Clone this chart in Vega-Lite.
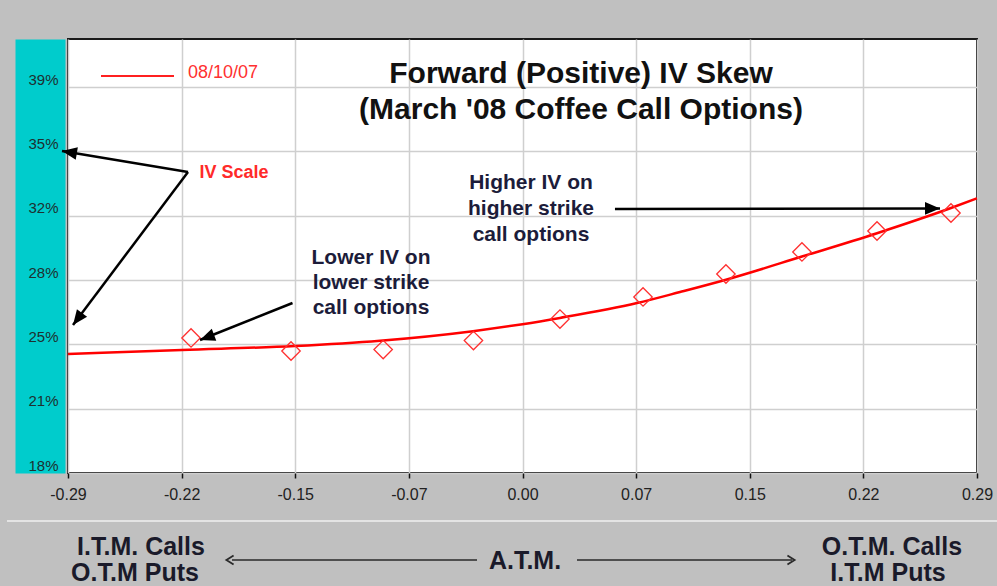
{
  "$schema": "https://vega.github.io/schema/vega-lite/v6.json",
  "width": 909,
  "height": 434,
  "autosize": {"type": "none"},
  "padding": {"left": 68, "top": 39, "right": 20, "bottom": 113},
  "background": "#c0c0c0",
  "config": {
    "view": {"fill": "#ffffff", "stroke": "#1a1a1a", "strokeWidth": 2},
    "font": "Liberation Sans",
    "axis": {"labelFont": "Liberation Sans"}
  },
  "datasets": {
    "curve": [
      {"x": -0.29, "y": 24.48},
      {"x": -0.2173, "y": 24.70},
      {"x": -0.1452, "y": 24.91},
      {"x": -0.0909, "y": 25.20},
      {"x": -0.0316, "y": 25.72},
      {"x": 0.0, "y": 26.10},
      {"x": 0.0239, "y": 26.44},
      {"x": 0.0731, "y": 27.25},
      {"x": 0.1005, "y": 27.85},
      {"x": 0.1298, "y": 28.52},
      {"x": 0.1783, "y": 29.78},
      {"x": 0.2262, "y": 31.05},
      {"x": 0.2734, "y": 32.42},
      {"x": 0.29, "y": 32.95}
    ],
    "pts": [
      {"x": -0.2115, "y": 25.35},
      {"x": -0.1477, "y": 24.64},
      {"x": -0.0889, "y": 24.72},
      {"x": -0.0313, "y": 25.21},
      {"x": 0.0239, "y": 26.38},
      {"x": 0.0769, "y": 27.58},
      {"x": 0.1298, "y": 28.83},
      {"x": 0.1783, "y": 30.03},
      {"x": 0.2262, "y": 31.17},
      {"x": 0.2734, "y": 32.15}
    ],
    "arrows": [
      {"id": "a1", "x": -0.21343, "y": 34.384},
      {"id": "a1", "x": -0.29383, "y": 35.527},
      {"id": "a2", "x": -0.21343, "y": 34.384},
      {"id": "a2", "x": -0.28681, "y": 26.056},
      {"id": "a3", "x": -0.14675, "y": 27.253},
      {"id": "a3", "x": -0.20578, "y": 25.239},
      {"id": "a4", "x": 0.0590, "y": 32.37},
      {"id": "a4", "x": 0.2664, "y": 32.40}
    ],
    "heads": [
      {"x": -0.29383, "y": 35.527, "dir": 189.5},
      {"x": -0.28681, "y": 26.056, "dir": 126.9},
      {"x": -0.20578, "y": 25.239, "dir": 159.3},
      {"x": 0.2664, "y": 32.40, "dir": 0}
    ],
    "sep": [
      {"x": -0.32892, "x2": 0.30276, "y": 15.387}
    ],
    "barrows": [
      {"x": -0.18536, "x2": -0.02903, "y": 13.264},
      {"x": 0.03477, "x2": 0.17196, "y": 13.264}
    ],
    "chevrons": [
      {"x": -0.18663, "y": 13.264, "dir": 180},
      {"x": 0.17133, "y": 13.264, "dir": 0}
    ],
    "legendline": [
      {"x": -0.26894, "x2": -0.22237, "y": 39.609}
    ],
    "notes": [
      {"kind": "title", "x": 0.03733, "y": 39.72, "text": "Forward (Positive) IV Skew"},
      {"kind": "title", "x": 0.03733, "y": 37.76, "text": "(March '08 Coffee Call Options)"},
      {"kind": "ann", "x": -0.09667, "y": 29.703, "text": "Lower IV on"},
      {"kind": "ann", "x": -0.09667, "y": 28.342, "text": "lower strike"},
      {"kind": "ann", "x": -0.09667, "y": 26.981, "text": "call options"},
      {"kind": "ann", "x": 0.00542, "y": 33.785, "text": "Higher IV on"},
      {"kind": "ann", "x": 0.00542, "y": 32.37, "text": "higher strike"},
      {"kind": "ann", "x": 0.00542, "y": 30.955, "text": "call options"},
      {"kind": "iv", "x": -0.18408, "y": 34.33, "text": "IV Scale"},
      {"kind": "legend", "x": -0.21343, "y": 39.77, "text": "08/10/07"},
      {"kind": "bottom", "x": -0.24342, "y": 13.972, "text": "I.T.M. Calls"},
      {"kind": "bottom", "x": -0.24725, "y": 12.557, "text": "O.T.M Puts"},
      {"kind": "bottom", "x": 0.0016, "y": 13.21, "text": "A.T.M."},
      {"kind": "bottom", "x": 0.23576, "y": 13.972, "text": "O.T.M. Calls"},
      {"kind": "bottom", "x": 0.23321, "y": 12.557, "text": "I.T.M Puts"}
    ]
  },
  "encoding": {
    "x": {"field": "x", "type": "quantitative", "title": null,
          "scale": {"domain": [-0.29, 0.29], "nice": false, "zero": false},
          "axis": {"values": [-0.29, -0.2175, -0.145, -0.0725, 0, 0.0725, 0.145, 0.2175, 0.29],
                   "labelExpr": "datum.value < -0.25 ? '-0.29' : datum.value < -0.18 ? '-0.22' : datum.value < -0.1 ? '-0.15' : datum.value < -0.03 ? '-0.07' : datum.value < 0.03 ? '0.00' : datum.value < 0.1 ? '0.07' : datum.value < 0.18 ? '0.15' : datum.value < 0.25 ? '0.22' : '0.29'",
                   "grid": true, "gridColor": "#cfcfcf", "gridWidth": 1.5,
                   "domain": false, "ticks": true, "tickColor": "#111111", "tickSize": 5, "tickWidth": 1.5,
                   "labelFontSize": 16, "labelColor": "#222222", "labelPadding": 8,
                   "labelFlush": false, "labelOverlap": false}},
    "y": {"field": "y", "type": "quantitative", "title": null, "axis": null,
          "scale": {"domain": [18, 41.62], "nice": false, "zero": false}}
  },
  "layer": [
    {
      "data": {"name": "sep"},
      "mark": {"type": "rule", "color": "#e4e4e4", "strokeWidth": 2},
      "encoding": {
        "x2": {"field": "x2"},
        "y": {"field": "y", "type": "quantitative", "title": null,
              "scale": {"domain": [18, 41.62], "nice": false, "zero": false},
              "axis": {"orient": "left", "labels": false, "ticks": false, "grid": false,
                       "domain": true, "domainColor": "#00cccc", "domainWidth": 50,
                       "offset": 28, "zindex": 0}}
      }
    },
    {
      "data": {"name": "curve"},
      "mark": {"type": "line", "color": "#ff0000", "strokeWidth": 2.5, "interpolate": "monotone"},
      "encoding": {
        "y": {"field": "y", "type": "quantitative", "title": null,
              "scale": {"domain": [18, 41.62], "nice": false, "zero": false},
              "axis": {"orient": "left", "values": [18, 21.5, 25, 28.5, 32, 35.5, 39],
                       "labelExpr": "floor(datum.value) + '%'",
                       "grid": false, "domain": false, "ticks": false,
                       "labelFontSize": 15, "labelColor": "#1e3030", "labelPadding": 10,
                       "labelBaseline": "bottom", "zindex": 1}}
      }
    },
    {
      "data": {"name": "pts"},
      "mark": {"type": "point", "shape": "diamond", "filled": false, "color": "#ff3030",
               "strokeWidth": 1.3, "size": 340, "opacity": 1},
      "encoding": {
        "y": {"field": "y", "type": "quantitative", "title": null,
              "scale": {"domain": [18, 41.62], "nice": false, "zero": false},
              "axis": {"orient": "left", "values": [18, 21.5, 25, 28.5, 32, 35.5, 39],
                       "labels": false, "ticks": false, "domain": false,
                       "grid": true, "gridColor": "#cfcfcf", "gridWidth": 1.5, "zindex": 0}}
      }
    },
    {
      "data": {"name": "arrows"},
      "mark": {"type": "line", "color": "#000000", "strokeWidth": 2.5},
      "encoding": {"detail": {"field": "id"}}
    },
    {
      "data": {"name": "heads"},
      "mark": {"type": "point", "shape": "M0,0L-2,-0.85L-2,0.85Z", "filled": true,
               "color": "#000000", "size": 225, "opacity": 1},
      "encoding": {"angle": {"field": "dir", "type": "quantitative", "scale": null}}
    },
    {
      "data": {"name": "barrows"},
      "mark": {"type": "rule", "color": "#2a2a2a", "strokeWidth": 1.5},
      "encoding": {"x2": {"field": "x2"}}
    },
    {
      "data": {"name": "chevrons"},
      "mark": {"type": "point", "shape": "M-0.8,-1L0.8,0L-0.8,1", "filled": false,
               "color": "#2a2a2a", "strokeWidth": 1.8, "size": 80, "opacity": 1},
      "encoding": {"angle": {"field": "dir", "type": "quantitative", "scale": null}}
    },
    {
      "data": {"name": "legendline"},
      "mark": {"type": "rule", "color": "#ff2020", "strokeWidth": 2},
      "encoding": {"x2": {"field": "x2"}}
    },
    {
      "data": {"name": "notes"},
      "transform": [{"filter": "datum.kind === 'title'"}],
      "mark": {"type": "text", "align": "center", "baseline": "middle", "font": "Liberation Sans",
               "fontSize": 30, "fontWeight": "bold", "color": "#111111"},
      "encoding": {"text": {"field": "text"}}
    },
    {
      "data": {"name": "notes"},
      "transform": [{"filter": "datum.kind === 'ann'"}],
      "mark": {"type": "text", "align": "center", "baseline": "middle", "font": "Liberation Sans",
               "fontSize": 21, "fontWeight": "bold", "color": "#1c1c3a"},
      "encoding": {"text": {"field": "text"}}
    },
    {
      "data": {"name": "notes"},
      "transform": [{"filter": "datum.kind === 'iv'"}],
      "mark": {"type": "text", "align": "center", "baseline": "middle", "font": "Liberation Sans",
               "fontSize": 18, "fontWeight": "bold", "color": "#ff2a2a"},
      "encoding": {"text": {"field": "text"}}
    },
    {
      "data": {"name": "notes"},
      "transform": [{"filter": "datum.kind === 'legend'"}],
      "mark": {"type": "text", "align": "left", "baseline": "middle", "font": "Liberation Sans",
               "fontSize": 18, "color": "#ff3030"},
      "encoding": {"text": {"field": "text"}}
    },
    {
      "data": {"name": "notes"},
      "transform": [{"filter": "datum.kind === 'bottom'"}],
      "mark": {"type": "text", "align": "center", "baseline": "middle", "font": "Liberation Sans",
               "fontSize": 25, "fontWeight": "bold", "color": "#1a1a2a"},
      "encoding": {"text": {"field": "text"}}
    }
  ],
  "resolve": {"axis": {"y": "independent"}}
}
